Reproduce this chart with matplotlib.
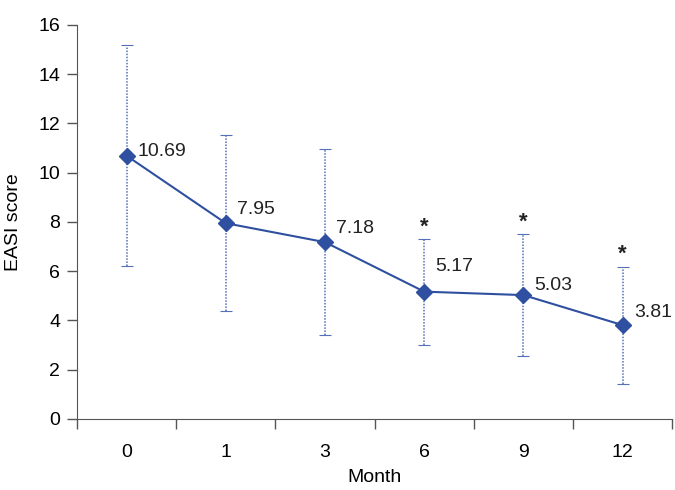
import matplotlib.pyplot as plt
import numpy as np

plt.rcParams['font.family'] = ['Liberation Sans', 'DejaVu Sans']

months = ['0', '1', '3', '6', '9', '12']
easi = [10.69, 7.95, 7.18, 5.17, 5.03, 3.81]
sd = [4.48, 3.58, 3.79, 2.15, 2.48, 2.38]
signif = [False, False, False, True, True, True]

X = np.arange(len(months))
fig = plt.figure(figsize=(6.75, 4.9), dpi=100)
ax = fig.add_axes([0.114, 0.145, 0.882, 0.804])

blue = '#2f50a0'
eb = ax.errorbar(X, easi, yerr=sd, fmt='none', ecolor='#5570bb', elinewidth=1.1,
                 capsize=4, capthick=0.8)
for line in eb[2]:
    line.set_linestyle((0, (1, 1)))
ax.plot(X, easi, color=blue, lw=1.5, marker='D', ms=8, zorder=3)

# vertical nudge of each value label (points)
nudge = [3, 10, 10, 18, 7, 9]
fs = 14
for x, y, s, star, dy in zip(X, easi, sd, signif, nudge):
    ax.annotate('%.2f' % y, (x, y), xytext=(8, dy), textcoords='offset points',
                ha='left', va='center', fontsize=fs, color='#222222')
    if star:
        ax.annotate('*', (x, y + s), xytext=(0, 1), textcoords='offset points',
                    ha='center', va='bottom', fontsize=16, fontweight='bold', color='#222222')

ax.set_xlim(-0.5, 5.5)
ax.set_ylim(0, 16)
ax.set_yticks(range(0, 17, 2))
ax.set_xticks(X)
ax.set_xticklabels(months)
ax.set_xticks(np.arange(-0.5, 6, 1), minor=True)
ax.tick_params(axis='x', which='major', length=0, pad=18, labelsize=fs)
ax.tick_params(axis='x', which='minor', length=7, width=1, color='#555555')
ax.tick_params(axis='y', length=7, width=1, color='#555555', labelsize=fs, pad=5)
for sp in ['top', 'right']:
    ax.spines[sp].set_visible(False)
for sp in ['left', 'bottom']:
    ax.spines[sp].set_color('#555555')
ax.set_xlabel('Month', fontsize=fs, labelpad=6)
ax.set_ylabel('EASI score', fontsize=fs, labelpad=12)

fig.savefig('out.png')
